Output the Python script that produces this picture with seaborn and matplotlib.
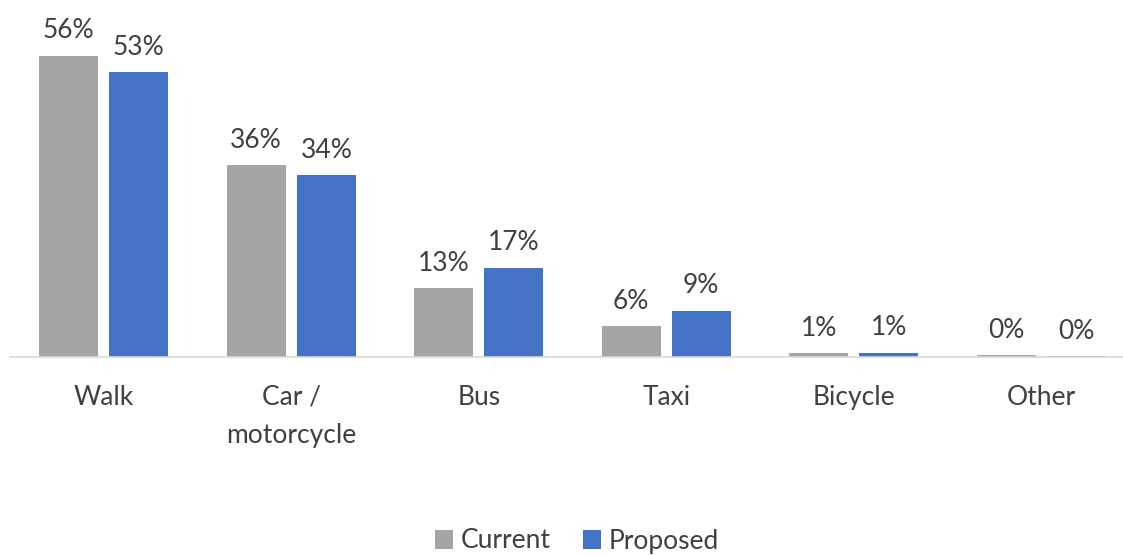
import matplotlib
matplotlib.use("Agg")
import matplotlib.pyplot as plt
import pandas as pd
import seaborn as sns


# ----------------------------------
# Data
# ----------------------------------

modes = ["Walk", "Car /\nmotorcycle", "Bus", "Taxi", "Bicycle", "Other"]
current = [55.9, 35.6, 12.8, 5.7, 0.7, 0.3]
proposed = [52.8, 33.7, 16.6, 8.6, 0.8, 0.1]
series = ["Current", "Proposed"]
colors = ["#A5A5A5", "#4472C4"]

df = pd.DataFrame({
    "mode": modes * 2,
    "share": current + proposed,
    "scenario": [series[0]] * len(modes) + [series[1]] * len(modes),
})


# ----------------------------------
# Plot
# ----------------------------------

sns.set_style("white")
plt.rcParams["font.family"] = ["Lato", "DejaVu Sans"]
text_color = "#404040"
fs = 19

fig = plt.figure(figsize=(11.23, 5.55), dpi=100)
ax = fig.add_axes([10 / 1123, 198 / 555, 1125 / 1123, 357 / 555])

sns.barplot(
    data=df,
    x="mode",
    y="share",
    hue="scenario",
    palette=colors,
    width=0.748,
    gap=0.157,
    saturation=1,
    linewidth=0,
    ax=ax,
)

for container in ax.containers:
    ax.bar_label(
        container,
        fmt="{:.0f}%",
        padding=9,
        fontsize=fs,
        color=text_color,
    )

ax.set_xlim(-0.5, len(modes) - 0.5)
ax.set_ylim(0, 357 / 5.39)
ax.set_xlabel("")
ax.set_ylabel("")
ax.set_yticks([])

for side in ["left", "right", "top"]:
    ax.spines[side].set_visible(False)
ax.spines["bottom"].set_color("#D9D9D9")
ax.spines["bottom"].set_linewidth(1.2)

ax.tick_params(axis="x", length=0, pad=20, labelsize=fs, labelcolor=text_color)
for lbl in ax.get_xticklabels():
    lbl.set_linespacing(1.65)

ax.legend(
    loc="center",
    bbox_to_anchor=(577 / 1123, 14 / 555),
    bbox_transform=fig.transFigure,
    ncol=2,
    frameon=False,
    fontsize=fs,
    labelcolor=text_color,
    handlelength=0.7,
    handleheight=0.7,
    handletextpad=0.3,
    columnspacing=1.2,
)

fig.savefig("out.png", dpi=100)
